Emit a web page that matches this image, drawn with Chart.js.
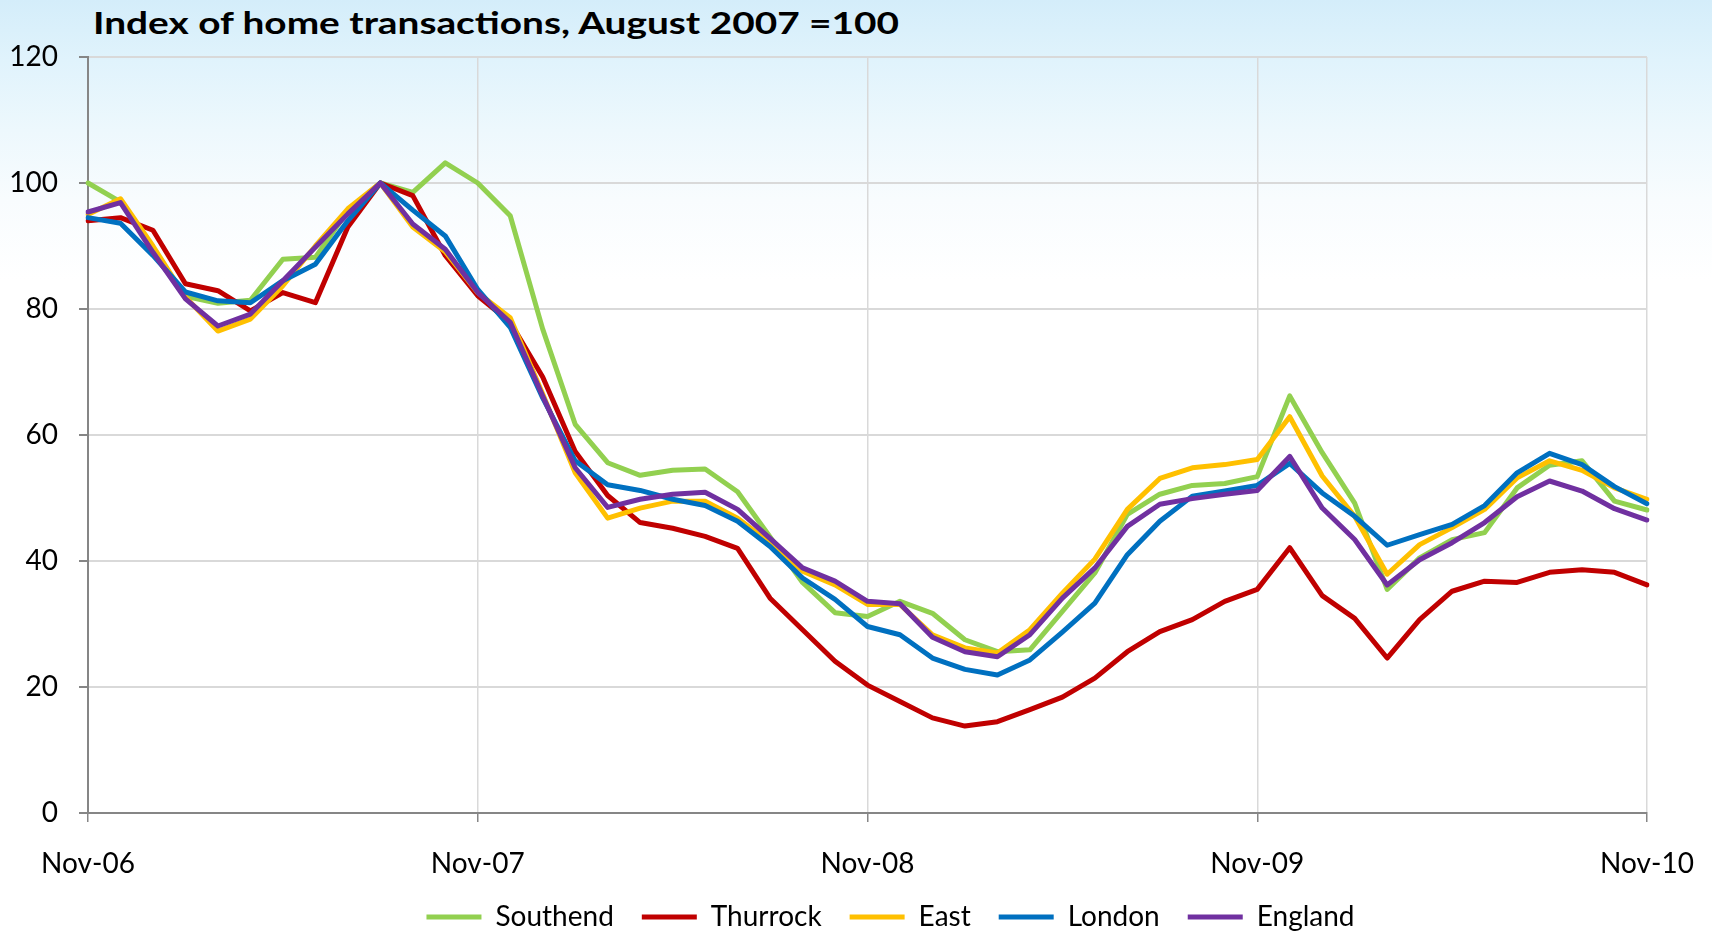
<!DOCTYPE html>
<html>
<head>
<meta charset="utf-8">
<script src="https://cdn.jsdelivr.net/npm/chart.js@4/dist/chart.umd.min.js"></script>
<style>
  html, body { margin: 0; padding: 0; }
  body {
    width: 1712px; height: 936px; overflow: hidden;
    background: linear-gradient(to bottom, #d4edfa 0px, #e0f3fc 60px, #edf8fd 130px, #f8fcfe 200px, #ffffff 280px);
    font-family: Lato, "Open Sans", sans-serif;
  }
  #title {
    position: absolute; left: 93px; top: 3px; margin: 0;
    font: bold 31px Lato, sans-serif; color: #000; white-space: nowrap;
    transform-origin: 0 0;
  }
  #wrap { position: absolute; left: 0; top: 0; width: 1712px; height: 936px; }
</style>
</head>
<body>
<h1 id="title">Index of home transactions, August 2007 =100</h1>
<div id="wrap"><canvas id="homeChart"></canvas></div>
<script>
// months Nov-06 .. Nov-10
const months = [
  'Nov-06','Dec-06','Jan-07','Feb-07','Mar-07','Apr-07','May-07','Jun-07','Jul-07','Aug-07','Sep-07','Oct-07',
  'Nov-07','Dec-07','Jan-08','Feb-08','Mar-08','Apr-08','May-08','Jun-08','Jul-08','Aug-08','Sep-08','Oct-08',
  'Nov-08','Dec-08','Jan-09','Feb-09','Mar-09','Apr-09','May-09','Jun-09','Jul-09','Aug-09','Sep-09','Oct-09',
  'Nov-09','Dec-09','Jan-10','Feb-10','Mar-10','Apr-10','May-10','Jun-10','Jul-10','Aug-10','Sep-10','Oct-10',
  'Nov-10'
];
const seriesNames = ['Southend', 'Thurrock', 'East', 'London', 'England'];
const southend = [100, 97, 89.5, 82, 80.9, 81.4, 87.9, 88.2, 95.6, 100, 98.5, 103.2,
  100, 94.8, 76.8, 61.7, 55.6, 53.6, 54.4, 54.6, 51, 43.8, 36.6, 31.8,
  31.2, 33.6, 31.7, 27.5, 25.6, 25.9, 32, 38.1, 47.4, 50.6, 52, 52.3,
  53.4, 66.2, 57.2, 49.2, 35.5, 40.5, 43.4, 44.5, 51.6, 55.2, 55.9, 49.5, 48.1];
const thurrock = [94, 94.5, 92.5, 84, 82.9, 79.7, 82.6, 81, 93, 100, 98, 88.5,
  82.1, 77.9, 69.2, 57.4, 50.4, 46.1, 45.2, 43.9, 42, 34.1, 29.1, 24.1,
  20.3, 17.7, 15.1, 13.8, 14.5, 16.4, 18.4, 21.4, 25.6, 28.8, 30.7, 33.6,
  35.5, 42.1, 34.5, 30.9, 24.6, 30.7, 35.2, 36.8, 36.6, 38.2, 38.6, 38.2, 36.2];
const east = [95, 97.5, 90, 81.9, 76.5, 78.4, 83.7, 90, 95.9, 100, 93, 89.1,
  82.6, 78.6, 66.5, 54, 46.8, 48.4, 49.5, 49.5, 46.8, 42.9, 38.4, 36.2,
  33.1, 33.1, 28.3, 26.2, 25.4, 29.1, 34.9, 40.3, 48.2, 53.1, 54.8, 55.3,
  56.1, 62.9, 53.5, 47.1, 37.9, 42.6, 45.3, 48.2, 53.2, 55.9, 54.4, 51.6, 49.8];
const london = [94.5, 93.6, 88.5, 82.7, 81.3, 81, 84.5, 87.1, 94, 100, 95.7, 91.6,
  83.1, 77.1, 65.9, 55.9, 52.1, 51.2, 49.8, 48.8, 46.3, 42.3, 37.3, 33.9,
  29.6, 28.3, 24.6, 22.8, 21.9, 24.3, 28.7, 33.3, 41, 46.3, 50.3, 51.1,
  52, 55.5, 50.8, 47.1, 42.5, 44.2, 45.8, 48.8, 54, 57.1, 55.3, 51.8, 49.1];
const england = [95.4, 96.9, 89, 81.6, 77.3, 79.2, 84.5, 89.8, 95.1, 100, 93.5, 89.5,
  82.6, 77.9, 66.2, 54.8, 48.5, 49.8, 50.6, 50.9, 48.2, 43.6, 38.9, 36.8,
  33.6, 33.2, 27.9, 25.6, 24.8, 28.3, 34.1, 38.9, 45.5, 49, 49.9, 50.6,
  51.2, 56.6, 48.4, 43.4, 36.2, 40.2, 42.9, 46.1, 50.2, 52.7, 51.1, 48.3, 46.5];
const seriesValues = [southend, thurrock, east, london, england];
const seriesColors = ['#92d050', '#c00000', '#ffc000', '#0070c0', '#7030a0'];
const yTicks = [0, 20, 40, 60, 80, 100, 120];

const axisGray = '#868686';
const gridGray = '#d9d9d9';
const tickFont = { family: 'Lato', size: 28 };

// stretch the title a little so it spans the same width as the original
const titleEl = document.getElementById('title');
titleEl.style.transform = 'scaleX(' + (806 / titleEl.getBoundingClientRect().width) + ')';

function isYearTick(ctx) {
  return ctx.index % 12 === 0;
}

// legend sits a bit lower and right of centre in the original;
// also let the x labels draw below the (short) x scale box
const layoutTweaks = {
  id: 'layoutTweaks',
  afterLayout(chart) {
    chart.legend.top += 5;
    chart.legend.bottom += 5;
    chart.legend.left += 67;
    chart.legend.right += 67;
    chart.scales.x.bottom += 45;
  }
};

const ctx = document.getElementById('homeChart').getContext('2d');
const homeChart = new Chart(ctx, {
  type: 'line',
  data: {
    labels: months,
    datasets: seriesNames.map((name, i) => ({
      label: name,
      data: seriesValues[i],
      borderColor: seriesColors[i],
      backgroundColor: seriesColors[i],
      borderWidth: 5,
      borderJoinStyle: 'round',
      borderCapStyle: 'round',
      pointRadius: 0,
      tension: 0,
      fill: false,
      order: seriesNames.length - i // England drawn on top, like the original
    }))
  },
  plugins: [layoutTweaks],
  options: {
    responsive: true,
    maintainAspectRatio: false,
    animation: false,
    layout: { padding: { left: 0, right: 65, top: 57, bottom: 0 } },
    plugins: {
      title: { display: false },
      tooltip: { enabled: false },
      legend: {
        position: 'bottom',
        labels: {
          usePointStyle: true,
          pointStyle: 'line',
          pointStyleWidth: 55,
          boxHeight: 28,
          padding: 28,
          color: '#000',
          font: tickFont,
          sort: (a, b) => a.datasetIndex - b.datasetIndex
        }
      }
    },
    scales: {
      x: {
        type: 'category',
        offset: false,
        afterFit: scale => {
          scale.height = 57;
          scale.paddingLeft = 0;
          scale.paddingRight = 0;
        },
        border: { display: true, color: axisGray, width: 2 },
        grid: {
          offset: false,
          drawTicks: true,
          tickLength: 9,
          lineWidth: 1.5,
          color: c => isYearTick(c) ? gridGray : 'rgba(0,0,0,0)',
          tickColor: c => isYearTick(c) ? axisGray : 'rgba(0,0,0,0)'
        },
        ticks: {
          autoSkip: false,
          maxRotation: 0,
          minRotation: 0,
          padding: 25,
          color: '#000',
          font: tickFont,
          callback: function (value, index) {
            return index % 12 === 0 ? this.getLabelForValue(value) : '';
          }
        }
      },
      y: {
        min: 0,
        max: 120,
        afterFit: scale => { scale.width = 88; },
        afterBuildTicks: scale => { scale.ticks = yTicks.map(v => ({ value: v })); },
        border: { display: true, color: axisGray, width: 2 },
        grid: {
          drawTicks: true,
          tickLength: 9,
          lineWidth: 2,
          color: gridGray,
          tickColor: axisGray
        },
        ticks: {
          padding: 21,
          color: '#000',
          font: tickFont
        }
      }
    }
  }
});
</script>
</body>
</html>
